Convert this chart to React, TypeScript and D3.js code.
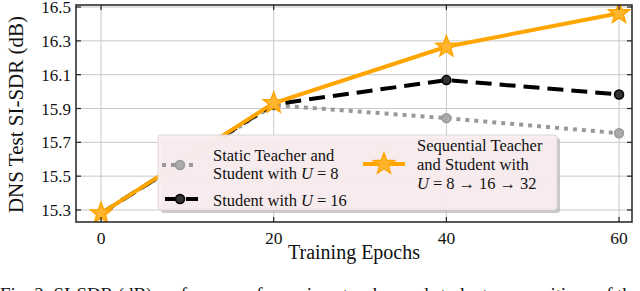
import React from "react";
import * as d3 from "d3";

const epochs = [0, 20, 40, 60];
const staticTeacher = [15.28, 15.92, 15.843, 15.754];
const studentU16 = [15.28, 15.925, 16.068, 15.983];
const sequential = [15.28, 15.932, 16.265, 16.463];
const xTicks = [0, 20, 40, 60];
const yTicks = [15.3, 15.5, 15.7, 15.9, 16.1, 16.3, 16.5];

const W = 640, H = 291;
const L = 76, R = 632, T = 5, B = 222;
const FONT = "'Liberation Serif', 'DejaVu Serif', serif";

function starPath(cx: number, cy: number, ro: number, ri: number) {
  const pts: string[] = [];
  for (let i = 0; i < 10; i++) {
    const r = i % 2 === 0 ? ro : ri;
    const a = -Math.PI / 2 + (i * Math.PI) / 5;
    pts.push(`${(cx + r * Math.cos(a)).toFixed(2)},${(cy + r * Math.sin(a)).toFixed(2)}`);
  }
  return "M" + pts.join("L") + "Z";
}

export default function App() {
  const x = d3.scaleLinear().domain([-2.9, 61.5]).range([L, R]);
  const y = d3.scaleLinear().domain([15.229, 16.512]).range([B, T]);
  const line = (vals: number[]) =>
    d3.line<number>().x((_, i) => x(epochs[i])).y((v) => y(v))(vals) || "";

  const eq = (rest: string) => (
    <>
      <tspan fontStyle="italic">U</tspan>
      <tspan dx={4}>=</tspan>
      <tspan dx={4}>{rest}</tspan>
    </>
  );

  const lx = 158, ly = 135, lw = 399, lh = 75;

  return (
    <svg width={W} height={H} style={{ position: "absolute", left: 0, top: 0, background: "#fff" }} fontFamily={FONT}>
      <defs>
        <clipPath id="plot">
          <rect x={L} y={T} width={R - L} height={B - T} />
        </clipPath>
      </defs>
      {xTicks.map((t) => (
        <line key={"gx" + t} x1={x(t)} x2={x(t)} y1={T} y2={B} stroke="#c8c8c8" strokeWidth={1} />
      ))}
      {yTicks.map((t) => (
        <line key={"gy" + t} x1={L} x2={R} y1={y(t)} y2={y(t)} stroke="#c8c8c8" strokeWidth={1} />
      ))}
      <g clipPath="url(#plot)">
        <path d={line(staticTeacher)} fill="none" stroke="#999999" strokeWidth={4} strokeDasharray="4,5" />
        {staticTeacher.map((v, i) => (
          <circle key={"s" + i} cx={x(epochs[i])} cy={y(v)} r={4.5} fill="#aaaaaa" stroke="#999999" strokeWidth={1.5} />
        ))}
        <path d={line(studentU16)} fill="none" stroke="#000" strokeWidth={4} strokeDasharray="16,8" />
        {studentU16.map((v, i) => (
          <circle key={"b" + i} cx={x(epochs[i])} cy={y(v)} r={4.5} fill="#333" stroke="#000" strokeWidth={1.5} />
        ))}
        <path d={line(sequential)} fill="none" stroke="#FFA500" strokeWidth={4} />
        {sequential.map((v, i) => (
          <path key={"o" + i} d={starPath(x(epochs[i]), y(v), 11, 4.6)} fill="#FFB52E" stroke="#FFA500" strokeWidth={1.5} />
        ))}
      </g>
      <rect x={L} y={T} width={R - L} height={B - T} fill="none" stroke="#222" strokeWidth={1.5} />
      {xTicks.map((t) => (
        <g key={"tx" + t}>
          <line x1={x(t)} x2={x(t)} y1={B} y2={B - 5} stroke="#222" strokeWidth={1.2} />
          <line x1={x(t)} x2={x(t)} y1={T} y2={T + 5} stroke="#222" strokeWidth={1.2} />
          <text x={x(t)} y={244} fontSize={17.5} textAnchor="middle" fill="#111">{t}</text>
        </g>
      ))}
      {yTicks.map((t) => (
        <g key={"ty" + t}>
          <line x1={L} x2={L + 5} y1={y(t)} y2={y(t)} stroke="#222" strokeWidth={1.2} />
          <line x1={R} x2={R - 5} y1={y(t)} y2={y(t)} stroke="#222" strokeWidth={1.2} />
          <text x={L - 5} y={y(t) + 6} fontSize={17} textAnchor="end" fill="#111">{t.toFixed(1)}</text>
        </g>
      ))}
      <text x={(L + R) / 2} y={259} fontSize={20} textAnchor="middle" fill="#111">Training Epochs</text>
      <text transform={`translate(23,${(T + B) / 2 + 1}) rotate(-90)`} fontSize={21} textAnchor="middle" fill="#111">
        DNS Test SI-SDR (dB)
      </text>
      <rect x={lx + 3} y={ly + 3} width={lw} height={lh} rx={3} fill="#bbbbbb" opacity={0.8} />
      <rect x={lx} y={ly} width={lw} height={lh} rx={3} fill="#fbeef1" fillOpacity={0.92} stroke="#d8d8d8" strokeWidth={1} />
      <line x1={162} x2={198} y1={165} y2={165} stroke="#999" strokeWidth={4} strokeDasharray="4,5" />
      <circle cx={180} cy={165} r={4.5} fill="#aaaaaa" stroke="#999" strokeWidth={1.5} />
      <line x1={162} x2={198} y1={199} y2={199} stroke="#000" strokeWidth={4} strokeDasharray="14,7" strokeDashoffset={-3} />
      <circle cx={180} cy={199} r={4.5} fill="#333" stroke="#000" strokeWidth={1.5} />
      <line x1={363} x2={405} y1={164} y2={164} stroke="#FFA500" strokeWidth={4} />
      <path d={starPath(384, 164, 11, 4.6)} fill="#FFB52E" stroke="#FFA500" strokeWidth={1.5} />
      <g fontSize={16.5} fill="#111">
        <text x={213} y={160.5}>Static Teacher and</text>
        <text x={213} y={179}>Student with {eq("8")}</text>
        <text x={213} y={206}>Student with {eq("16")}</text>
        <text x={417} y={151}>Sequential Teacher</text>
        <text x={417} y={169.5}>and Student with</text>
        <text x={417} y={188.5}>
          <tspan fontStyle="italic">U</tspan>
          <tspan dx={4}>=</tspan>
          <tspan dx={4}>8</tspan>
          <tspan dx={4}>→</tspan>
          <tspan dx={4}>16</tspan>
          <tspan dx={4}>→</tspan>
          <tspan dx={4}>32</tspan>
        </text>
      </g>
      <text x={0} y={301} fontSize={19} fill="#111" textLength={640} lengthAdjust="spacing">
        Fig. 2: SI-SDR (dB) performance for various teacher and student compositions of the
      </text>
    </svg>
  );
}
